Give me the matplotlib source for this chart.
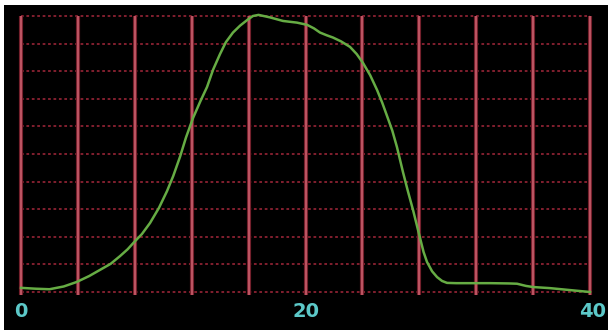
import matplotlib
matplotlib.use("Agg")
import matplotlib.pyplot as plt
from matplotlib.patches import Rectangle

# Data
x_vals = [0, 1.0, 2.0, 3.0, 3.9, 4.8, 5.55, 6.3, 6.96, 7.5, 7.94, 8.5, 9.07, 9.7,
          10.26, 10.7, 11.18, 11.6, 12.09, 12.6, 13.08, 13.5, 13.99, 14.4, 14.9,
          15.4, 15.89, 16.3, 16.7, 17.5, 18.42, 19.4, 20.11, 20.6, 21.02, 21.5,
          21.93, 22.5, 23.13, 23.6, 24.04, 24.55, 25.03, 25.4, 25.73, 26.1, 26.43,
          26.85, 27.2, 27.56, 28.05, 28.3, 28.54, 28.9, 29.25, 29.6, 29.95, 30.6,
          31.78, 33.0, 34.3, 34.87, 35.5, 36.0, 37.19, 38.38, 40]
y_vals = [0.15, 0.12, 0.10, 0.20, 0.36, 0.58, 0.80, 1.02, 1.30, 1.55, 1.80, 2.10,
          2.50, 3.05, 3.65, 4.20, 4.90, 5.60, 6.30, 6.90, 7.43, 8.05, 8.62, 9.05,
          9.40, 9.65, 9.85, 10.00, 10.04, 9.95, 9.82, 9.76, 9.68, 9.55, 9.40, 9.30,
          9.22, 9.08, 8.88, 8.62, 8.30, 7.85, 7.32, 6.85, 6.38, 5.85, 5.25, 4.35,
          3.65, 2.97, 1.96, 1.45, 1.09, 0.75, 0.54, 0.40, 0.33, 0.32, 0.32, 0.32,
          0.31, 0.30, 0.22, 0.18, 0.14, 0.08, 0.0]
x_ticks = [0, 20, 40]
x_grid = [0, 4, 8, 12, 16, 20, 24, 28, 32, 36, 40]
y_grid = [0, 1, 2, 3, 4, 5, 6, 7, 8, 9, 10]

W, H = 608, 334
fig = plt.figure(figsize=(W / 100, H / 100), dpi=100, facecolor="white")
bg = fig.add_axes([4 / W, 4 / H, 604 / W, (H - 9) / H])
bg.set_axis_off()
bg.add_patch(Rectangle((0, 0), 1, 1, transform=bg.transAxes, facecolor="black",
                       edgecolor="none"))
bg.set_zorder(0)

ax = fig.add_axes([21 / W, (H - 292) / H, 569 / W, 276 / H])
ax.set_zorder(1)
ax.set_facecolor("none")
ax.set_xlim(0, 40)
ax.set_ylim(0, 10)
for s in ax.spines.values():
    s.set_visible(False)
ax.set_xticks([])
ax.set_yticks([])

for yv in y_grid:
    ax.axhline(yv, color="#8c2232", lw=1.3, linestyle=(0, (1.5, 1.5)), zorder=1, clip_on=False)
for xv in x_grid:
    ax.plot([xv, xv], [-0.1, 10.0], color="#74202c", lw=3.0, zorder=2,
            solid_capstyle="butt", clip_on=False)
    ax.plot([xv, xv], [-0.1, 10.0], color="#c45a68", lw=1.3, zorder=2,
            solid_capstyle="butt", clip_on=False)

ax.plot(x_vals, y_vals, color="#66ac44", lw=1.8, zorder=3, clip_on=False,
        solid_joinstyle="round")

for t in x_ticks:
    ax.text(t + (0.15 if t == 40 else 0), -0.72, str(t), color="#5cc8c8", fontsize=14,
            fontweight="bold", ha="center", va="center", family="DejaVu Sans",
            clip_on=False)

fig.savefig("out.png", dpi=100, facecolor="white")
